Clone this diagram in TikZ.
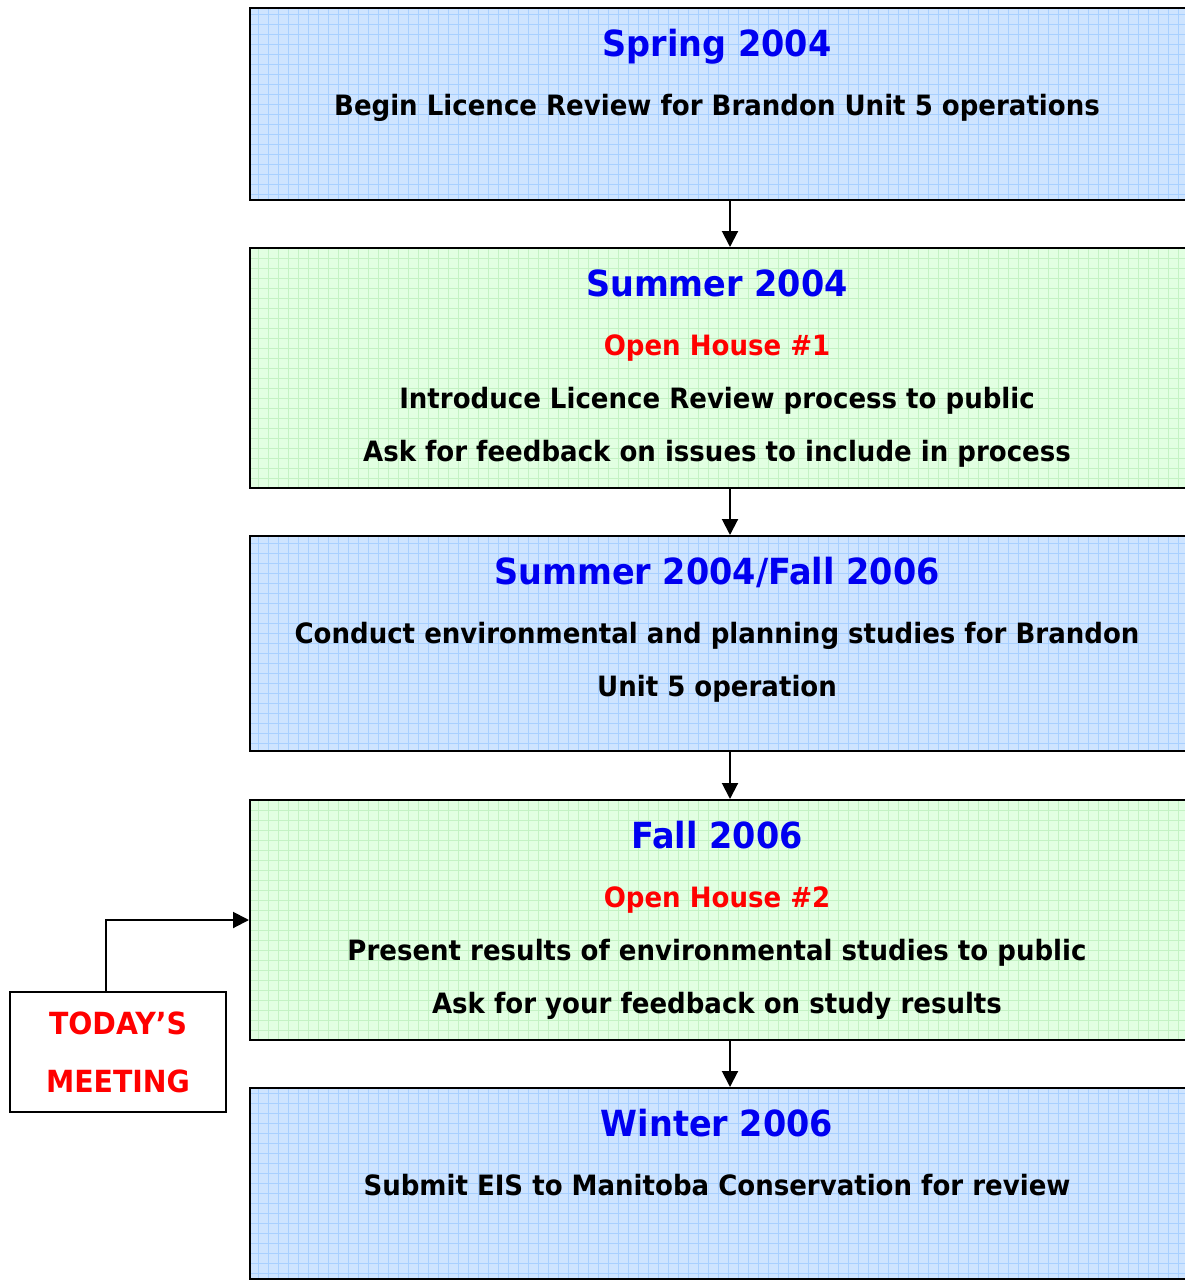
\documentclass[tikz,border=0pt]{standalone}
\usepackage{fontspec}
\setmainfont{DejaVu Sans}[FakeStretch=0.93]
\usepackage{tikz}
\usetikzlibrary{arrows.meta}

\definecolor{boxblue}{RGB}{206,228,255}
\definecolor{gridblue}{RGB}{168,208,255}
\definecolor{boxgreen}{RGB}{226,255,226}
\definecolor{gridgreen}{RGB}{196,242,196}
\definecolor{titleblue}{RGB}{0,0,240}
\definecolor{housered}{RGB}{255,0,0}

\begin{document}
\begin{tikzpicture}
  [x=1pt,y=-1pt,
   stagebox/.style={rectangle,draw=black,line width=2pt,minimum width=937pt,inner sep=0pt},
   bluebox/.style={stagebox,fill=boxblue,path picture={
       \draw[gridblue,line width=0.8pt] (path picture bounding box.south west) grid[step=10pt] (path picture bounding box.north east);}},
   greenbox/.style={stagebox,fill=boxgreen,path picture={
       \draw[gridgreen,line width=0.8pt] (path picture bounding box.south west) grid[step=10pt] (path picture bounding box.north east);}},
   title/.style={anchor=base,inner sep=0pt,font=\bfseries\fontsize{36}{42}\selectfont,text=titleblue},
   house/.style={anchor=base,inner sep=0pt,font=\bfseries\fontsize{28}{32}\selectfont,text=housered},
   line/.style={anchor=base,inner sep=0pt,font=\bfseries\fontsize{28}{32}\selectfont},
   flow/.style={line width=2pt,-{Triangle[width=16pt,length=16pt]}}]
  \useasboundingbox (0,0) rectangle (1185,1280);

  % stage boxes
  \node[bluebox,minimum height=192pt]  (spring)  at (718.5,104)  {};
  \node[greenbox,minimum height=240pt] (summer)  at (718.5,368)  {};
  \node[bluebox,minimum height=215pt]  (studies) at (718.5,643.5) {};
  \node[greenbox,minimum height=240pt] (fall)    at (718.5,920)  {};
  \node[bluebox,minimum height=191pt]  (winter)  at (718.5,1183.5) {};

  % texts
  \node[title] (t1) at (717,56)   {Spring 2004};
  \node[line]  (l1) at (717,115)  {Begin Licence Review for Brandon Unit 5 operations};

  \node[title] (t2) at (717,296)  {Summer 2004};
  \node[house] (h1) at (717,355)  {Open House \#1};
  \node[line]  (l2) at (717,408)  {Introduce Licence Review process to public};
  \node[line]  (l3) at (717,461)  {Ask for feedback on issues to include in process};

  \node[title] (t3) at (717,584)  {Summer 2004/Fall 2006};
  \node[line]  (l4) at (717,643)  {Conduct environmental and planning studies for Brandon};
  \node[line]  (l5) at (717,696)  {Unit 5 operation};

  \node[title] (t4) at (717,848)  {Fall 2006};
  \node[house] (h2) at (717,907)  {Open House \#2};
  \node[line]  (l6) at (717,960)  {Present results of environmental studies to public};
  \node[line]  (l7) at (717,1013) {Ask for your feedback on study results};

  \node[title] (t5) at (717,1136) {Winter 2006};
  \node[line]  (l8) at (717,1195) {Submit EIS to Manitoba Conservation for review};

  % today's meeting
  \node[rectangle,draw=black,line width=2pt,fill=white,minimum width=216pt,minimum height=120pt,
        font=\bfseries\fontsize{30.5}{58}\selectfont,text=housered,align=center] (today) at (118,1052)
        {TODAY’S\\MEETING};

  \foreach \from/\to in {spring/summer,summer/studies,studies/fall,fall/winter}
    \draw[flow] ([xshift=11.5pt]\from.south) -- ([xshift=11.5pt]\to.north);
  \draw[flow] ([xshift=-12pt]today.north) |- (fall.west);
\end{tikzpicture}
\end{document}
